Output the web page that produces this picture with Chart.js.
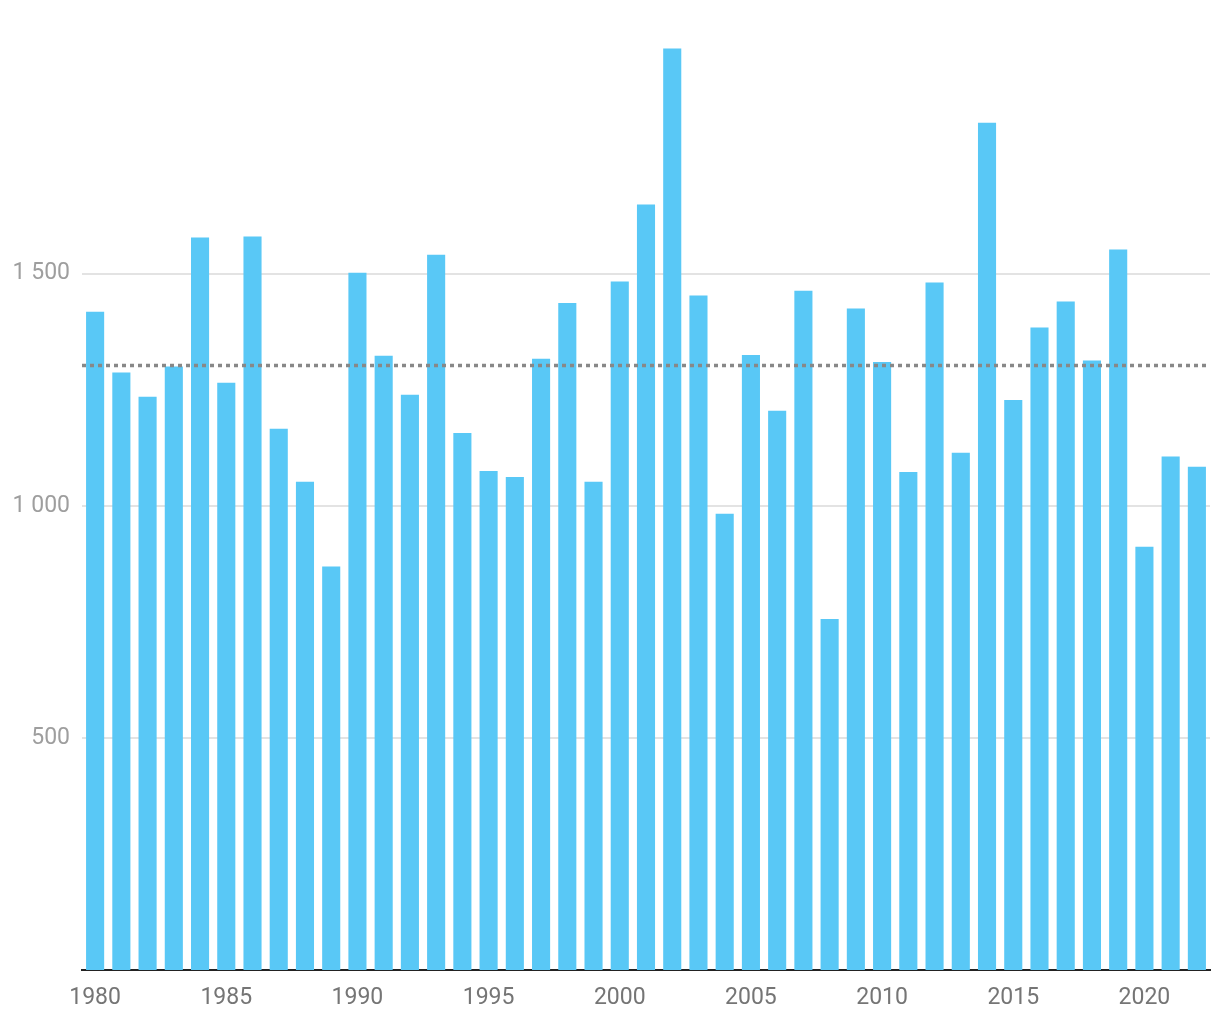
<!DOCTYPE html>
<html>
<head>
<meta charset="utf-8">
<script src="https://cdn.jsdelivr.net/npm/chart.js@4/dist/chart.umd.min.js"></script>
<style>
  html, body { margin: 0; padding: 0; background: #fff; }
  #wrap { width: 1220px; height: 1020px; position: relative; }
</style>
</head>
<body>
<div id="wrap"><canvas id="barChart"></canvas></div>
<script>
const years = [];
for (let y = 1980; y <= 2022; y++) years.push(String(y));

const values = [1418, 1287, 1235, 1300, 1578, 1265, 1580, 1166, 1052, 869,
                1502, 1323, 1239, 1541, 1157, 1075, 1062, 1317, 1437, 1052,
                1483, 1649, 1985, 1453, 983, 1325, 1205, 1463, 756, 1425,
                1310, 1073, 1481, 1114, 1825, 1228, 1384, 1440, 1313, 1552,
                912, 1106, 1084];

const averageValue = 1304;
const yTicks = [500, 1000, 1500];

// dotted average line across the whole plot area
const avgLine = {
	id: 'avgLine',
	afterDatasetsDraw(chart) {
		const ctx = chart.ctx;
		const area = chart.chartArea;
		const y = Math.round(chart.scales.y.getPixelForValue(averageValue)) + 0.5;
		ctx.save();
		ctx.strokeStyle = '#888888';
		ctx.lineWidth = 3.5;
		ctx.setLineDash([4, 4]);
		ctx.beginPath();
		ctx.moveTo(area.left, y);
		ctx.lineTo(area.right, y);
		ctx.stroke();
		ctx.restore();
	}
};

var chart = document.getElementById('barChart').getContext('2d');
var myChart = new Chart(chart, {
	type: 'bar',
	data: {
		labels: years,
		datasets: [{
			data: values,
			backgroundColor: '#59c8f6',
			barPercentage: 0.69,
			categoryPercentage: 1.0
		}]
	},
	plugins: [avgLine],
	options: {
		responsive: true,
		maintainAspectRatio: false,
		animation: false,
		layout: { padding: { top: 0, right: 10, bottom: 0, left: 0 } },
		plugins: {
			legend: { display: false },
			tooltip: { enabled: false }
		},
		scales: {
			x: {
				grid: { display: false, drawTicks: false },
				border: { display: true, color: '#222222', width: 2 },
				afterFit: function(scale) { scale.height = 50; },
				ticks: {
					autoSkip: false,
					maxRotation: 0,
					padding: 14,
					color: '#757575',
					font: { family: 'Roboto', size: 23 },
					callback: function(val, idx) {
						let yr = Number(years[idx]);
						return yr % 5 === 0 ? String(yr) : '';
					}
				}
			},
			y: {
				min: 0,
				max: 2034,
				afterFit: function(scale) { scale.width = 82; },
				afterBuildTicks: function(scale) {
					scale.ticks = yTicks.map(v => ({ value: v }));
				},
				grid: { color: '#e3e3e3', lineWidth: 2, drawTicks: false },
				border: { display: false },
				ticks: {
					padding: 12,
					color: '#9e9e9e',
					font: { family: 'Roboto', size: 23 },
					callback: function(v) {
						return String(v).replace(/\B(?=(\d{3})+(?!\d))/g, ' ');
					}
				}
			}
		}
	}
});
</script>
</body>
</html>
